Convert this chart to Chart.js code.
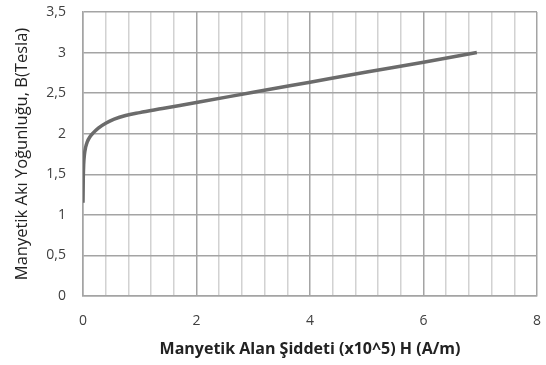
<!DOCTYPE html>
<html>
<head>
<meta charset="utf-8">
<script src="https://cdn.jsdelivr.net/npm/chart.js@4.4.0/dist/chart.umd.min.js"></script>
<style>
  html, body { margin: 0; padding: 0; background: #fff; }
  #c { display: block; }
</style>
</head>
<body>
<canvas id="c" width="546" height="365"></canvas>
<script>
// H (x10^5 A/m) and B (Tesla)
let h_vals = [0, 0.005, 0.012, 0.025, 0.045, 0.075, 0.12, 0.18, 0.27, 0.4, 0.55, 0.75, 1.0, 1.4, 2.07, 3, 4, 5, 6, 6.94];
let b_vals = [1.15, 1.45, 1.62, 1.74, 1.83, 1.9, 1.96, 2.01, 2.07, 2.13, 2.18, 2.225, 2.26, 2.31, 2.395, 2.51, 2.635, 2.76, 2.88, 3.0];
let x_ticks = [0, 2, 4, 6, 8];
let y_ticks = [0, 0.5, 1, 1.5, 2, 2.5, 3, 3.5];

let pts = [];
for (let i = 0; i < h_vals.length; i++) {
    pts.push({ x: h_vals[i], y: b_vals[i] });
}

function isMajor(v) {
    return x_ticks.some(t => Math.abs(t - v) < 1e-6);
}

let ctx = document.getElementById('c');
let chart = new Chart(ctx, {
    type: 'scatter',
    data: {
        datasets: [{
            data: pts,
            showLine: true,
            borderColor: '#6b6b6b',
            borderWidth: 3.5,
            pointRadius: 0,
            cubicInterpolationMode: 'monotone',
            fill: false
        }]
    },
    options: {
        responsive: false,
        animation: false,
        layout: { padding: { top: 12, right: 9, left: 0, bottom: 0 } },
        plugins: { legend: { display: false }, tooltip: { enabled: false } },
        scales: {
            x: {
                type: 'linear',
                min: 0,
                max: 8,
                afterBuildTicks: (ax) => {
                    // major ticks from x_ticks, four minor lines between them
                    let t = [];
                    for (let i = 0; i < x_ticks.length; i++) {
                        t.push({ value: x_ticks[i] });
                        if (i < x_ticks.length - 1) {
                            let step = (x_ticks[i + 1] - x_ticks[i]) / 5;
                            for (let k = 1; k < 5; k++) t.push({ value: x_ticks[i] + k * step });
                        }
                    }
                    ax.ticks = t;
                },
                afterFit: (ax) => {
                    ax.height = 69;
                    ax.paddingLeft = 0;
                    ax.paddingRight = 0;
                },
                grid: {
                    drawTicks: false,
                    color: (c) => isMajor(c.tick.value) ? '#a4a4a4' : '#d2d2d2',
                    lineWidth: 1.5
                },
                border: { color: '#a4a4a4', width: 1.5 },
                ticks: {
                    autoSkip: false,
                    maxRotation: 0,
                    padding: 17,
                    color: '#404040',
                    font: { family: 'Open Sans', size: 14 },
                    callback: (v) => isMajor(v) ? String(Math.round(v)) : ''
                },
                title: {
                    display: true,
                    text: 'Manyetik Alan Şiddeti (x10^5) H (A/m)',
                    color: '#222',
                    font: { family: 'Open Sans', size: 16, weight: 'bold' },
                    padding: { top: 0, bottom: 6 }
                }
            },
            y: {
                type: 'linear',
                min: 0,
                max: 3.5,
                afterBuildTicks: (ax) => { ax.ticks = y_ticks.map(v => ({ value: v })); },
                afterFit: (ax) => {
                    ax.width = 83;
                    ax.paddingTop = 0;
                    ax.paddingBottom = 0;
                },
                grid: { drawTicks: false, color: '#a4a4a4', lineWidth: 1.5 },
                border: { color: '#a4a4a4', width: 1.5 },
                ticks: {
                    padding: 17,
                    color: '#404040',
                    font: { family: 'Open Sans', size: 14 },
                    callback: (v) => String(v).replace('.', ',')
                },
                title: {
                    display: true,
                    text: 'Manyetik Akı Yoğunluğu, B(Tesla)',
                    color: '#222',
                    font: { family: 'Open Sans', size: 16.5 },
                    padding: { top: 12, bottom: 0 }
                }
            }
        }
    }
});
</script>
</body>
</html>
